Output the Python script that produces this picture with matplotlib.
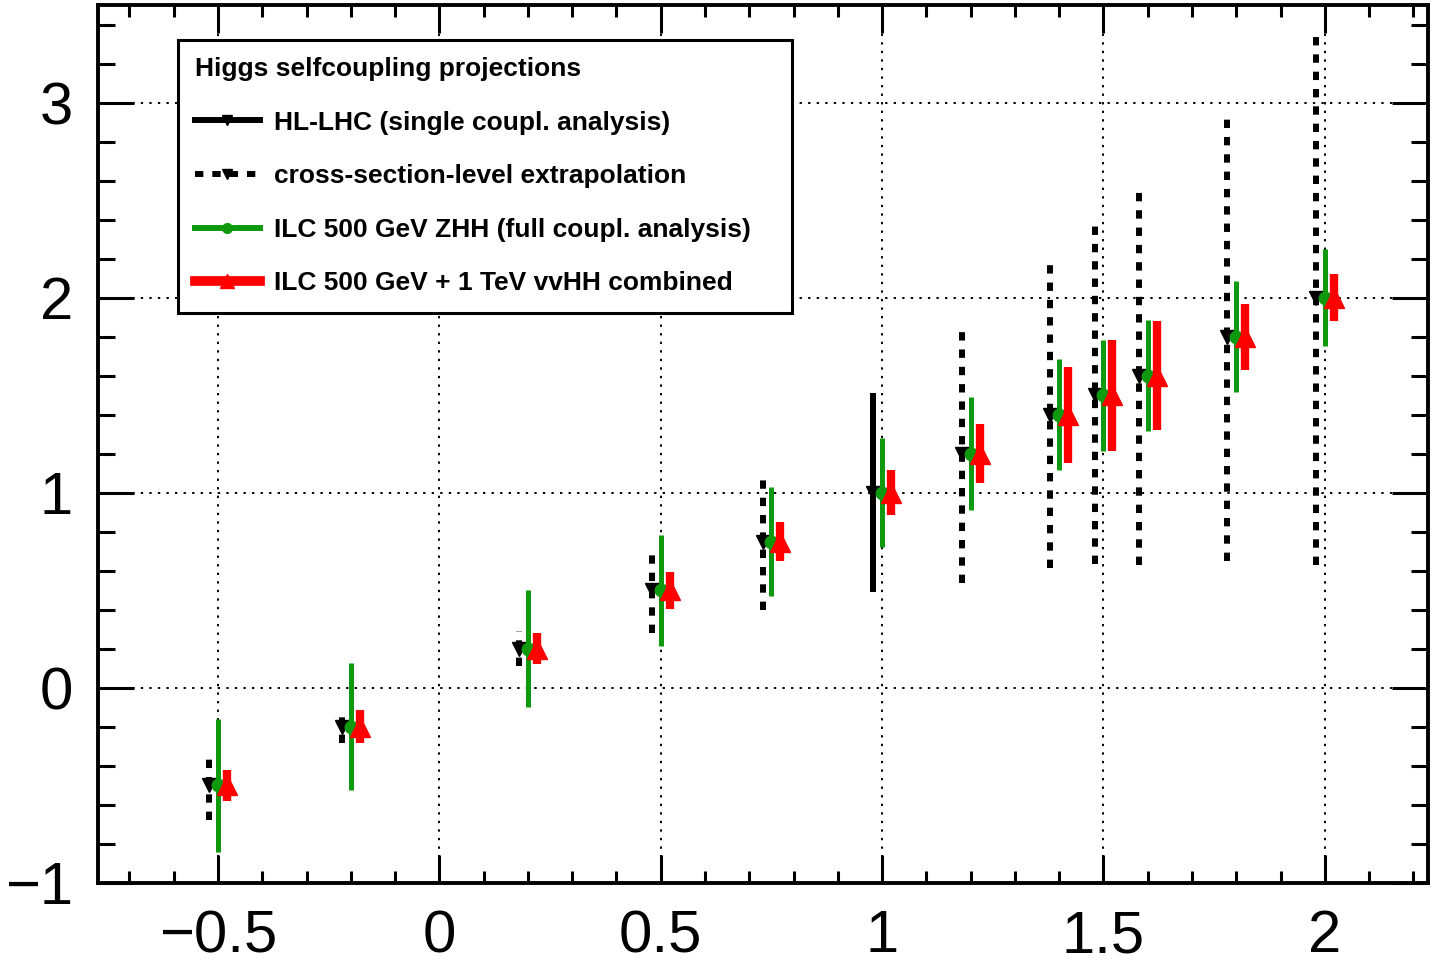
import matplotlib.pyplot as plt
from matplotlib.lines import Line2D
from matplotlib.ticker import MultipleLocator, FuncFormatter

plt.rcParams['font.family'] = ['Liberation Sans', 'DejaVu Sans']

# true value of the Higgs self-coupling (scaled to SM)
lam = [-0.5, -0.2, 0.2, 0.5, 0.75, 1.0, 1.2, 1.4, 1.5, 1.6, 1.8, 2.0]

# HL-LHC, single coupling analysis (only at SM point)
hllhc_lam = [1.0]
hllhc_err = [0.51]

# cross-section-level extrapolation of HL-LHC
xsec_lam = [-0.5, -0.2, 0.2, 0.5, 0.75, 1.2, 1.4, 1.5, 1.6, 1.8, 2.0]
xsec_err = [0.175, 0.08, 0.09, 0.22, 0.35, 0.66, 0.785, 0.865, 0.97, 1.15, 1.37]

# ILC 500 GeV ZHH, full coupling analysis
zhh_err = [0.34, 0.325, 0.30, 0.285, 0.28, 0.28, 0.29, 0.285, 0.285, 0.285, 0.285, 0.25]

# ILC 500 GeV + 1 TeV vvHH combined
comb_err = [0.08, 0.085, 0.08, 0.095, 0.10, 0.115, 0.15, 0.245, 0.285, 0.28, 0.17, 0.12]

green = '#0f990f'
red = '#ff0000'
dx = 0.02  # horizontal shift so the bars don't overlap
dash = (0, (1.4, 1.5))

fig = plt.figure(figsize=(14.4, 9.63), dpi=100)
ax = fig.add_axes([98 / 1440, 1 - 883 / 963, 1330 / 1440, 878 / 963])

# HL-LHC points (black)
ax.vlines([x - dx for x in hllhc_lam],
          [x - e for x, e in zip(hllhc_lam, hllhc_err)],
          [x + e for x, e in zip(hllhc_lam, hllhc_err)],
          colors='k', linewidth=4.3, zorder=3)
ax.vlines([x - dx for x in xsec_lam],
          [x - e for x, e in zip(xsec_lam, xsec_err)],
          [x + e for x, e in zip(xsec_lam, xsec_err)],
          colors='k', linewidth=4.3, linestyles=[dash], zorder=3)
ax.plot([x - dx for x in lam], lam, 'v', color='k', ms=10, zorder=4)

# ZHH (green)
ax.vlines(lam, [x - e for x, e in zip(lam, zhh_err)],
          [x + e for x, e in zip(lam, zhh_err)],
          colors=green, linewidth=3.6, zorder=5)
ax.plot(lam, lam, 'o', color=green, ms=9, zorder=6)

# combined (red)
ax.vlines([x + dx for x in lam], [x - e for x, e in zip(lam, comb_err)],
          [x + e for x, e in zip(lam, comb_err)],
          colors=red, linewidth=6, zorder=7)
ax.plot([x + dx for x in lam], lam, '^', color=red, ms=14, zorder=8)

ax.set_xlim(-0.771, 2.233)
ax.set_ylim(-1, 3.5)

ax.xaxis.set_major_locator(MultipleLocator(0.5))
ax.xaxis.set_minor_locator(MultipleLocator(0.1))
ax.yaxis.set_major_locator(MultipleLocator(1))
ax.yaxis.set_minor_locator(MultipleLocator(0.2))
fmt = FuncFormatter(lambda v, p: f'{round(v, 6) + 0.0:g}'.replace('-', '\u2212'))
ax.xaxis.set_major_formatter(fmt)
ax.yaxis.set_major_formatter(fmt)

ax.tick_params(which='both', direction='in', top=True, right=True, width=2.2,
               labelsize=43)
ax.tick_params(axis='x', which='major', length=20, pad=19)
ax.tick_params(axis='x', which='minor', length=8.6)
ax.tick_params(axis='y', which='major', length=26, pad=18)
ax.tick_params(axis='y', which='minor', length=12)
for s in ax.spines.values():
    s.set_linewidth(2.8)

ax.grid(True, which='major', color='k', linestyle=(0, (1.2, 3.2)), linewidth=1.4)
ax.set_axisbelow(True)

handles = [
    Line2D([], [], color='k', lw=4.3, marker='v', ms=7),
    Line2D([], [], color='k', lw=4.3, ls=dash, marker='v', ms=7),
    Line2D([], [], color=green, lw=4.3, marker='o', ms=7),
    Line2D([], [], color=red, lw=7, marker='^', ms=10),
]
labels = ['HL-LHC (single coupl. analysis)',
          'cross-section-level extrapolation',
          'ILC 500 GeV ZHH (full coupl. analysis)',
          'ILC 500 GeV + 1 TeV vvHH combined']
x0 = (178 - 98) / 1330
y0 = (883 - 40) / 878
w = 614 / 1330
leg = ax.legend(handles, labels, title='Higgs selfcoupling projections',
                loc='upper left', bbox_to_anchor=(x0, y0 - 0.3, w, 0.3),
                mode='expand', borderaxespad=0,
                prop={'size': 19, 'weight': 'bold'},
                title_fontproperties={'size': 19, 'weight': 'bold'},
                alignment='left', fancybox=False, framealpha=1,
                edgecolor='k', handlelength=2.45, handletextpad=0.53,
                labelspacing=1.12, borderpad=0.65)
leg.get_frame().set_linewidth(2.2)
leg.set_zorder(10)

fig.savefig('out.png', dpi=100)
